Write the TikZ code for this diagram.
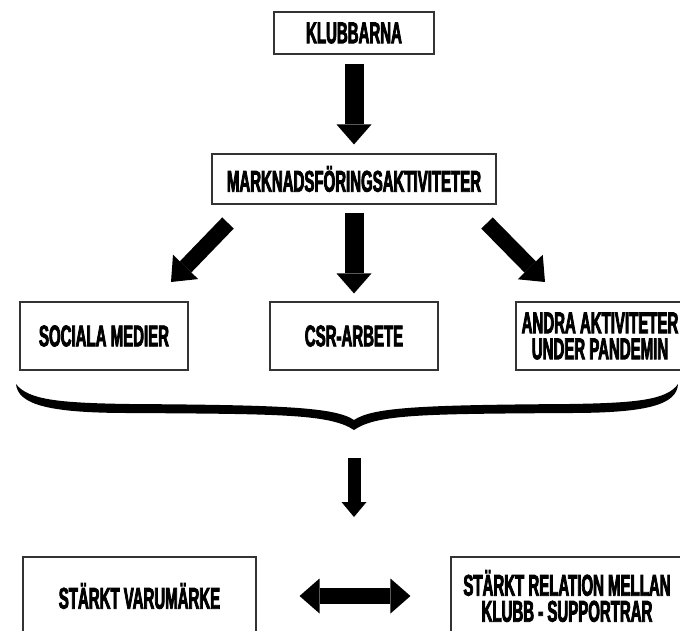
\documentclass[tikz,border=0pt]{standalone}
\usepackage{fontspec}
\newfontfamily\boxfont{Liberation Sans}[FakeStretch=0.5,FakeBold=2.5]
\usetikzlibrary{arrows.meta}

\tikzset{
    box/.style={draw=black!80, line width=1.1pt, align=center, inner sep=0pt,
        font=\boxfont\bfseries\fontsize{30}{26}\selectfont},
    rowbox/.style={box, minimum width=168pt, minimum height=68pt},
    fatarrow/.style={line width=19pt, -{Triangle[length=20pt,width=35pt,line width=0pt]}},
    diagarrow/.style={line width=16pt, -{Triangle[length=21pt,width=35pt,line width=0pt]}},
    thinarrow/.style={line width=13pt, -{Triangle[length=15pt,width=25pt,line width=0pt]}},
    twoway/.style={line width=16pt, {Triangle[length=20pt,width=35pt,line width=0pt]}-{Triangle[length=20pt,width=35pt,line width=0pt]}}
}

\begin{document}
\begin{tikzpicture}[x=1pt,y=-1pt]
        \useasboundingbox (0,0) rectangle (680,630);
        \clip (0,0) rectangle (680,630);

        \node[box, minimum width=160pt, minimum height=42pt] (klubb) at (354,33) {KLUBBARNA};
        \node[box, minimum width=284pt, minimum height=50pt] (mark) at (354,179) {MARKNADSFÖRINGSAKTIVITETER};

        \node[rowbox] (sociala) at (104,336) {SOCIALA MEDIER};
        \node[rowbox] (csr) at (354,336) {CSR-ARBETE};
        \node[rowbox] (andra) at (600,336) {ANDRA AKTIVITETER\\UNDER PANDEMIN};

        \node[box, minimum width=233pt, minimum height=78pt] (varum) at (139.5,596) {STÄRKT VARUMÄRKE};
        \node[box, minimum width=232pt, minimum height=78pt] (relation) at (567,596) {STÄRKT RELATION MELLAN\\KLUBB - SUPPORTRAR};

        \draw[fatarrow, shorten <=9pt, shorten >=9pt] (klubb) -- (mark);
        \draw[fatarrow, shorten <=8pt, shorten >=8pt] (mark) -- (csr);

        \coordinate (socstart) at (228,223);
        \coordinate (socend) at (171,282);
        \coordinate (andrastart) at (487,223);
        \coordinate (andraend) at (545,282);
        \draw[diagarrow] (socstart) -- (socend);
        \draw[diagarrow] (andrastart) -- (andraend);

        % brace under the three boxes
        \fill (16,384) .. controls (28,400) and (60,403) .. (130,404)
                       .. controls (280,405) and (335,407) .. (354,420)
                       .. controls (373,407) and (425,405) .. (569,404)
                       .. controls (636,403) and (667,400) .. (678,384)
                       .. controls (677,405) and (646,413) .. (569,413)
                       .. controls (425,414) and (377,414) .. (354,430)
                       .. controls (330,414) and (280,414) .. (130,413)
                       .. controls (50,413) and (18,405) .. (16,384) -- cycle;

        \coordinate (bracetip) at (354,430);
        \coordinate (merge) at (354,517);
        \draw[thinarrow, shorten <=28pt] (bracetip) -- (merge);

        \draw[twoway, shorten <=43pt, shorten >=40pt] (varum) -- (relation);
    \end{tikzpicture}
\end{document}
